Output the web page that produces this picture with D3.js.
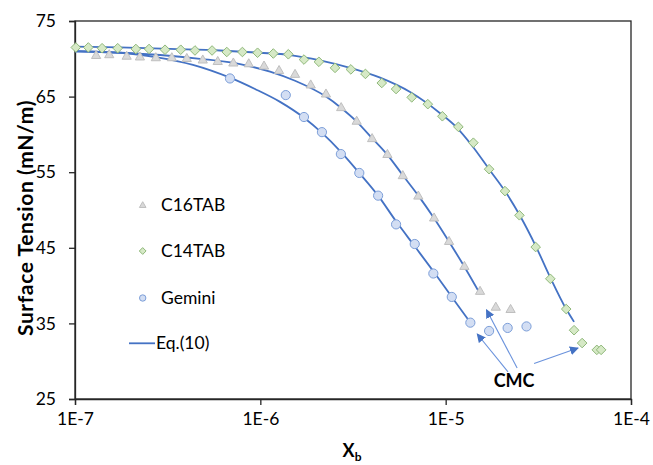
<!DOCTYPE html>
<html>
<head>
<meta charset="utf-8">
<script src="https://cdn.jsdelivr.net/npm/d3@7"></script>
<style>
  body { margin: 0; background: #fff; }
  text { font-family: Lato, "Open Sans", sans-serif; fill: #000; }
</style>
</head>
<body>
<svg width="653" height="465" id="chart"></svg>
<script>
// measured points
var c16X = [1.30e-7, 1.53e-7, 1.90e-7, 2.24e-7, 2.73e-7, 3.33e-7, 4.01e-7, 4.89e-7, 5.89e-7, 7.15e-7,
            8.66e-7, 1.047e-6, 1.262e-6, 1.539e-6, 1.87e-6, 2.26e-6, 2.73e-6, 3.31e-6, 4.01e-6, 4.85e-6,
            5.87e-6, 7.12e-6, 8.66e-6, 1.043e-5, 1.262e-5, 1.533e-5, 1.864e-5, 2.24e-5];
var c16Y = [70.5, 70.6, 70.4, 70.3, 70.2, 70.2, 70.1, 69.9, 69.7, 69.5,
            69.4, 69.1, 68.5, 68.0, 66.6, 65.4, 63.6, 61.8, 59.5, 57.4,
            54.6, 51.9, 49.0, 45.9, 42.6, 39.3, 37.2, 36.9];

var c14X = [1.01e-7, 1.18e-7, 1.40e-7, 1.70e-7, 2.13e-7, 2.51e-7, 3.06e-7, 3.72e-7, 4.44e-7, 5.49e-7,
            6.59e-7, 8.00e-7, 9.66e-7, 1.175e-6, 1.416e-6, 1.72e-6, 2.07e-6, 2.53e-6, 3.08e-6, 3.69e-6,
            4.52e-6, 5.40e-6, 6.56e-6, 8.01e-6, 9.60e-6, 1.171e-5, 1.411e-5, 1.715e-5, 2.09e-5, 2.50e-5,
            3.06e-5, 3.67e-5, 4.47e-5, 4.93e-5, 5.45e-5, 6.54e-5, 6.90e-5];
var c14Y = [71.5, 71.5, 71.4, 71.4, 71.3, 71.3, 71.2, 71.2, 71.1, 71.1,
            70.9, 70.9, 70.8, 70.7, 70.6, 69.9, 69.6, 68.8, 68.6, 68.0,
            66.8, 66.0, 64.9, 64.0, 62.4, 61.0, 58.9, 55.4, 52.5, 49.3,
            45.1, 40.9, 36.9, 34.1, 32.4, 31.5, 31.5];

var gemX = [6.86e-7, 1.372e-6, 1.72e-6, 2.15e-6, 2.72e-6, 3.42e-6, 4.32e-6, 5.40e-6, 6.81e-6, 8.58e-6,
            1.079e-5, 1.359e-5, 1.715e-5, 2.16e-5, 2.73e-5];
var gemY = [67.4, 65.2, 62.3, 60.3, 57.4, 54.9, 51.9, 48.1, 45.5, 41.6,
            38.5, 35.1, 34.0, 34.4, 34.6];

// Eq.(10) curves
var eqC14X = [1e-7, 1.75e-7, 3.26e-7, 6.06e-7, 9.96e-7, 1.446e-6, 2.10e-6, 3.05e-6, 4.43e-6, 6.43e-6,
              9.33e-6, 1.138e-5, 1.389e-5, 1.715e-5, 2.09e-5, 2.51e-5, 3.08e-5, 3.68e-5, 4.47e-5, 4.93e-5];
var eqC14Y = [71.6, 71.5, 71.3, 71.1, 70.8, 70.5, 69.8, 68.8, 67.5, 65.6,
              62.8, 61.0, 58.5, 55.4, 52.5, 49.3, 45.1, 41.0, 36.9, 35.2];

var eqC16X = [1e-7, 1.75e-7, 2.88e-7, 4.73e-7, 7.77e-7, 1.128e-6, 1.539e-6, 2.26e-6, 2.73e-6, 3.31e-6,
              4.01e-6, 4.85e-6, 5.87e-6, 7.12e-6, 8.66e-6, 1.043e-5, 1.262e-5, 1.533e-5];
var eqC16Y = [71.0, 70.8, 70.5, 70.0, 69.3, 68.3, 67.1, 65.0, 63.5, 61.7,
              59.5, 57.3, 54.6, 51.9, 48.9, 45.8, 42.5, 38.9];

var eqGemX = [1e-7, 1.75e-7, 2.77e-7, 4.33e-7, 6.86e-7, 9.36e-7, 1.278e-6, 1.72e-6, 2.15e-6, 2.72e-6,
              3.42e-6, 4.32e-6, 5.40e-6, 6.81e-6, 8.58e-6, 1.079e-5, 1.359e-5];
var eqGemY = [71.0, 70.8, 70.2, 69.2, 67.5, 66.0, 64.3, 62.2, 60.2, 57.7,
              54.9, 51.9, 48.5, 45.2, 41.9, 38.5, 35.1];

var xTicks = [1e-7, 1e-6, 1e-5, 1e-4];
var xTickLabels = ["1E-7", "1E-6", "1E-5", "1E-4"];
var yTicks = [25, 35, 45, 55, 65, 75];

// CMC arrows: [fromX, fromY, toX, toY]
var cmcArrows = [
  [2.17e-5, 28.6, 1.48e-5, 33.6],
  [2.43e-5, 29.1, 1.66e-5, 36.8],
  [3.00e-5, 29.7, 5.18e-5, 31.75]
];

var svg = d3.select("#chart"),
    pLeft = 75, pRight = 631, pTop = 21, pBottom = 399;

var x = d3.scaleLog().domain([1e-7, 1e-4]).range([pLeft, pRight]),
    y = d3.scaleLinear().domain([25, 75]).range([pBottom, pTop]);

var blue = "#4472c4";

// frame
svg.append("rect")
   .attr("x", pLeft).attr("y", pTop)
   .attr("width", pRight - pLeft).attr("height", pBottom - pTop)
   .attr("fill", "none").attr("stroke", "#262626").attr("stroke-width", 1.3);

var xAxis = svg.append("g")
   .attr("transform", "translate(0," + pBottom + ")")
   .call(d3.axisBottom(x).tickValues(xTicks).tickSize(6).tickPadding(8)
          .tickFormat(function(d, i) { return xTickLabels[i]; }));
var yAxis = svg.append("g")
   .attr("transform", "translate(" + pLeft + ",0)")
   .call(d3.axisLeft(y).tickValues(yTicks).tickSize(6).tickPadding(13));

[xAxis, yAxis].forEach(function(a) {
  a.select(".domain").attr("stroke", "#262626").attr("stroke-width", 1.3);
  a.selectAll(".tick line").attr("stroke", "#262626").attr("stroke-width", 1.3);
  a.selectAll(".tick text").attr("font-size", "17.5px").attr("fill", "#000")
   .attr("font-family", "Lato, 'Open Sans', sans-serif");
});

// axis titles
svg.append("text")
   .attr("transform", "translate(33,218) rotate(-90)")
   .attr("text-anchor", "middle")
   .attr("font-size", "21px").attr("font-weight", "bold")
   .attr("letter-spacing", "0.6px")
   .text("Surface Tension (mN/m)");

var xt = svg.append("text")
   .attr("x", 352).attr("y", 457)
   .attr("text-anchor", "middle")
   .attr("font-size", "18px").attr("font-weight", "bold");
xt.append("tspan").text("X");
xt.append("tspan").attr("font-size", "12px").attr("dy", 4).text("b");

// Eq.(10) lines
var line = d3.line()
   .x(function(d) { return x(d[0]); })
   .y(function(d) { return y(d[1]); })
   .curve(d3.curveMonotoneX);

[[eqC14X, eqC14Y], [eqC16X, eqC16Y], [eqGemX, eqGemY]].forEach(function(s) {
  svg.append("path")
     .datum(d3.zip(s[0], s[1]))
     .attr("fill", "none").attr("stroke", blue).attr("stroke-width", 1.8)
     .attr("d", line);
});

// marker shapes
function triPath(r) { return "M0," + (-r) + "L" + r + "," + (r * 0.75) + "L" + (-r) + "," + (r * 0.75) + "Z"; }
function diaPath(r) { return "M0," + (-r) + "L" + r + ",0L0," + r + "L" + (-r) + ",0Z"; }

var triStyle = { fill: "#d9d9d9", stroke: "#bfbfbf" },
    diaStyle = { fill: "#d6e9c6", stroke: "#8fb87a" },
    cirStyle = { fill: "#d3def3", stroke: "#7d9fd9" };

svg.append("g").selectAll("path")
   .data(d3.zip(c16X, c16Y))
   .enter().append("path")
   .attr("transform", function(d) { return "translate(" + x(d[0]) + "," + y(d[1]) + ")"; })
   .attr("d", triPath(4.6))
   .attr("fill", triStyle.fill).attr("stroke", triStyle.stroke).attr("stroke-width", 1);

svg.append("g").selectAll("path")
   .data(d3.zip(c14X, c14Y))
   .enter().append("path")
   .attr("transform", function(d) { return "translate(" + x(d[0]) + "," + y(d[1]) + ")"; })
   .attr("d", diaPath(4.8))
   .attr("fill", diaStyle.fill).attr("stroke", diaStyle.stroke).attr("stroke-width", 1);

svg.append("g").selectAll("circle")
   .data(d3.zip(gemX, gemY))
   .enter().append("circle")
   .attr("cx", function(d) { return x(d[0]); })
   .attr("cy", function(d) { return y(d[1]); })
   .attr("r", 4.6)
   .attr("fill", cirStyle.fill).attr("stroke", cirStyle.stroke).attr("stroke-width", 1);

// CMC annotation
svg.append("defs").append("marker")
   .attr("id", "arrow")
   .attr("viewBox", "0 0 10 10")
   .attr("refX", 9).attr("refY", 5)
   .attr("markerWidth", 9).attr("markerHeight", 9)
   .attr("markerUnits", "userSpaceOnUse")
   .attr("orient", "auto")
   .append("path").attr("d", "M0,0L10,5L0,10Z").attr("fill", blue);

svg.append("g").selectAll("line")
   .data(cmcArrows)
   .enter().append("line")
   .attr("x1", function(d) { return x(d[0]); })
   .attr("y1", function(d) { return y(d[1]); })
   .attr("x2", function(d) { return x(d[2]); })
   .attr("y2", function(d) { return y(d[3]); })
   .attr("stroke", "#6a92dc").attr("stroke-width", 1.1)
   .attr("marker-end", "url(#arrow)");

svg.append("text")
   .attr("x", x(2.34e-5)).attr("y", y(26.6))
   .attr("text-anchor", "middle")
   .attr("font-size", "18px").attr("font-weight", "bold")
   .text("CMC");

// legend
var lg = svg.append("g");
var lx = 142.7;
lg.append("path").attr("transform", "translate(" + lx + ",205)").attr("d", triPath(3.3))
  .attr("fill", triStyle.fill).attr("stroke", triStyle.stroke);
lg.append("path").attr("transform", "translate(" + lx + ",251)").attr("d", diaPath(3.4))
  .attr("fill", diaStyle.fill).attr("stroke", diaStyle.stroke);
lg.append("circle").attr("cx", lx).attr("cy", 298).attr("r", 3.2)
  .attr("fill", cirStyle.fill).attr("stroke", cirStyle.stroke);
lg.append("line").attr("x1", 129).attr("x2", 155).attr("y1", 343.3).attr("y2", 343.3)
  .attr("stroke", blue).attr("stroke-width", 1.8);

var legendNames = ["C16TAB", "C14TAB", "Gemini"];
legendNames.forEach(function(n, i) {
  lg.append("text").attr("x", 161).attr("y", [211, 257, 304][i])
    .attr("font-size", "17.5px").text(n);
});
lg.append("text").attr("x", 156).attr("y", 349).attr("font-size", "17.5px").text("Eq.(10)");
</script>
</body>
</html>
